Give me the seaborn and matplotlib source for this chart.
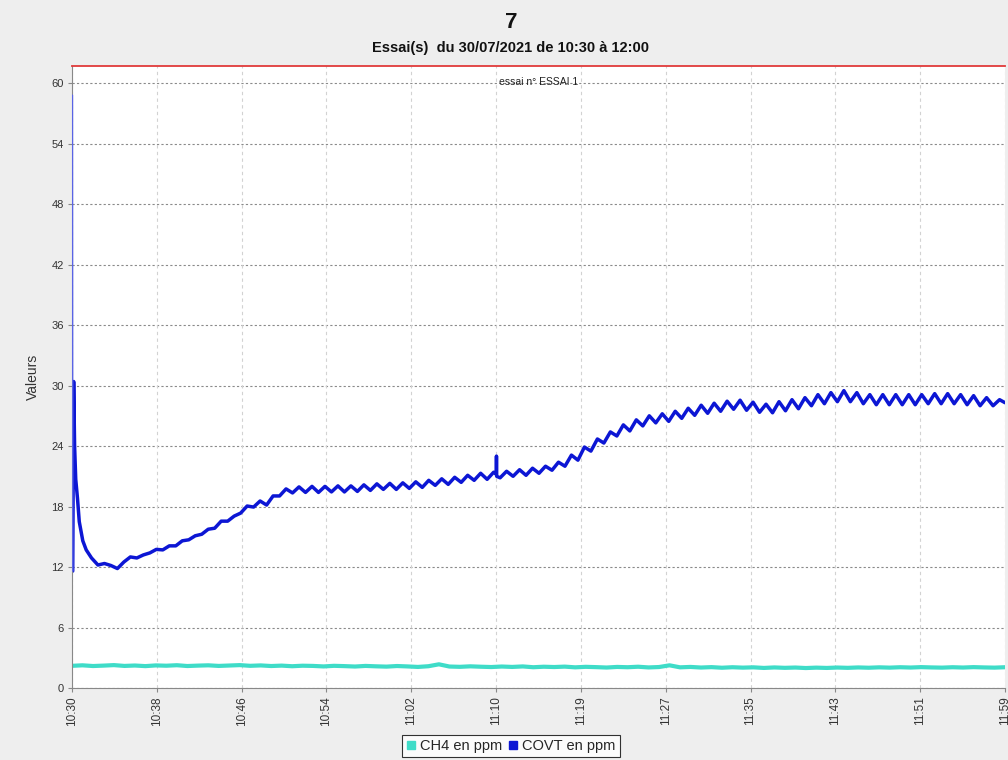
import matplotlib
matplotlib.use("Agg")
import matplotlib.pyplot as plt
import matplotlib.transforms as mtransforms
from matplotlib.lines import Line2D
import numpy as np
import pandas as pd
import seaborn as sns

# axe x : minutes depuis 10:30, graduations affichees par l'appli
tick_labels = ["10:30", "10:38", "10:46", "10:54", "11:02", "11:10",
               "11:19", "11:27", "11:35", "11:43", "11:51", "11:59"]
run_minutes = 89.9

# COVT : points irreguliers (demarrage, pic de 11:10, dernier point)
covt_extra_min = [0.04, 0.07, 0.16, 0.25, 0.36, 0.53, 0.7, 1.04, 1.37, 1.88,
                  40.88, 40.9, 40.92, 89.9]
covt_extra_ppm = [58.8, 11.6, 30.4, 24.0, 20.7, 18.8, 16.5, 14.6, 13.7, 12.9,
                  21.2, 23.0, 21.0, 28.3]

# COVT : creux / pics successifs, un point toutes les 0.625 min a partir de 2.5 min
covt_osc_start = 2.5
covt_osc_step = 0.625
covt_osc_ppm = [
    12.2, 12.35, 12.15, 11.85, 12.5, 13.0, 12.9, 13.2,
    13.4, 13.75, 13.7, 14.1, 14.1, 14.6, 14.7, 15.1,
    15.25, 15.75, 15.85, 16.55, 16.55, 17.05, 17.35, 18.05,
    17.95, 18.55, 18.15, 19.05, 19.05, 19.75, 19.35, 19.95,
    19.4, 20.0, 19.4, 20.0, 19.45, 20.05, 19.45, 20.05,
    19.5, 20.15, 19.6, 20.25, 19.7, 20.3, 19.7, 20.35,
    19.8, 20.45, 19.9, 20.6, 20.1, 20.75, 20.2, 20.9,
    20.4, 21.1, 20.6, 21.3, 20.7, 21.4, 20.85, 21.5,
    21.0, 21.65, 21.1, 21.8, 21.3, 22.0, 21.6, 22.4,
    22.0, 23.1, 22.6, 23.9, 23.5, 24.7, 24.3, 25.4,
    25.0, 26.1, 25.5, 26.6, 26.0, 27.0, 26.3, 27.2,
    26.45, 27.45, 26.75, 27.75, 27.05, 28.05, 27.25, 28.25,
    27.45, 28.45, 27.65, 28.55, 27.55, 28.35, 27.35, 28.15,
    27.3, 28.4, 27.5, 28.6, 27.7, 28.8, 28.0, 29.1,
    28.2, 29.3, 28.4, 29.5, 28.4, 29.3, 28.2, 29.1,
    28.1, 29.1, 28.1, 29.1, 28.1, 29.1, 28.1, 29.1,
    28.2, 29.2, 28.2, 29.2, 28.2, 29.1, 28.1, 29.0,
    28.0, 28.8, 28.0, 28.6,
]

# CH4 : une valeur par minute
ch4_ppm = [
    2.20, 2.25, 2.18, 2.22, 2.27, 2.19, 2.23, 2.17, 2.24, 2.21,
    2.26, 2.18, 2.22, 2.25, 2.19, 2.23, 2.27, 2.20, 2.24, 2.18,
    2.22, 2.16, 2.21, 2.19, 2.14, 2.20, 2.17, 2.13, 2.19, 2.15,
    2.12, 2.18, 2.14, 2.09, 2.16, 2.35, 2.13, 2.10, 2.15, 2.11,
    2.08, 2.13, 2.09, 2.14, 2.06, 2.11, 2.08, 2.12, 2.05, 2.10,
    2.07, 2.03, 2.09, 2.06, 2.11, 2.04, 2.08, 2.25, 2.05, 2.09,
    2.03, 2.07, 2.01, 2.06, 2.02, 2.05, 1.99, 2.04, 2.00, 2.03,
    1.98, 2.02, 1.99, 2.03, 2.00, 2.04, 2.01, 2.05, 2.02, 2.06,
    2.03, 2.07, 2.04, 2.02, 2.06, 2.03, 2.07, 2.04, 2.02, 2.06,
]

CH4_COLOR = "#3fdcc8"
COVT_COLOR = "#0c16d4"

covt_osc_min = covt_osc_start + covt_osc_step * np.arange(len(covt_osc_ppm))
covt = pd.DataFrame({
    "minutes": np.concatenate([covt_extra_min, covt_osc_min]),
    "ppm": np.concatenate([covt_extra_ppm, covt_osc_ppm]),
}).sort_values("minutes").reset_index(drop=True)
ch4 = pd.DataFrame({
    "minutes": np.linspace(0, run_minutes, len(ch4_ppm)),
    "ppm": ch4_ppm,
})

sns.set_style("white")
plt.rcParams["font.family"] = ["Liberation Sans", "DejaVu Sans"]

fig = plt.figure(figsize=(10.08, 7.6), dpi=100, facecolor="#eeeeee")
ax = fig.add_axes([72 / 1008, 72 / 760, 933 / 1008, 622 / 760])
ax.set_facecolor("white")

sns.lineplot(data=ch4, x="minutes", y="ppm", color=CH4_COLOR, lw=3.0,
             estimator=None, ax=ax)
sns.lineplot(data=covt.iloc[1:], x="minutes", y="ppm", color=COVT_COLOR, lw=2.5,
             estimator=None, ax=ax, solid_joinstyle="round")
sns.lineplot(data=covt.iloc[:2], x="minutes", y="ppm", color="#5a64e6", lw=1.1,
             estimator=None, ax=ax, zorder=5)

ax.set_xlim(0, run_minutes)
ax.set_ylim(0, 61.7)
ax.set_yticks(np.arange(0, 61, 6))
ax.set_xticks(np.linspace(0, run_minutes, len(tick_labels)))
ax.set_xticklabels(tick_labels, rotation=90)
ax.set_xlabel("")
ax.set_ylabel("Valeurs", fontsize=10, color="#333333")
ax.yaxis.set_label_coords(-32 / 933, 0.5)

ax.tick_params(axis="both", labelsize=8, labelcolor="#333333", length=3,
               width=0.8, color="#888888", pad=3, left=True, bottom=True)
ax.tick_params(axis="x", labelsize=8.5)

ax.grid(False)
for y in ax.get_yticks():
    ax.axhline(y, color="#8a8a8a", lw=0.8, ls=(0, (2, 2)), zorder=0)
for x in ax.get_xticks():
    ax.axvline(x, color="#d2d2d2", lw=0.8, ls=(0, (3, 3)), zorder=0)

ax.spines["top"].set_color("#e03a3a")
ax.spines["top"].set_linewidth(1.3)
ax.spines["right"].set_visible(False)
for side in ("left", "bottom"):
    ax.spines[side].set_color("#888888")
    ax.spines[side].set_linewidth(0.8)

# libelle de l'essai, pose sur la ligne des 60
trans = mtransforms.blended_transform_factory(ax.transAxes, ax.transData)
ax.text(0.5, 60.1, "essai n° ESSAI 1", transform=trans, ha="center", va="center",
        fontsize=7.5, color="#222222")

fig.text(511 / 1008, 1 - 22 / 760, "7", ha="center", va="center",
         fontsize=16, fontweight="bold", color="#111111")
fig.text(511 / 1008, 1 - 48 / 760, "Essai(s)  du 30/07/2021 de 10:30 à 12:00",
         ha="center", va="center", fontsize=10.5, fontweight="bold", color="#111111")

handles = [
    Line2D([], [], ls="none", marker="s", ms=5.5, color=CH4_COLOR),
    Line2D([], [], ls="none", marker="s", ms=5.5, color=COVT_COLOR),
]
leg = fig.legend(handles, ["CH4 en ppm", "COVT en ppm"], loc="center",
                 bbox_to_anchor=(511 / 1008, 1 - 746 / 760), ncol=2,
                 fontsize=10.5, frameon=True, fancybox=False, edgecolor="black",
                 handlelength=0.6, handletextpad=0.3, columnspacing=0.5,
                 borderpad=0.3, borderaxespad=0)
leg.get_frame().set_linewidth(0.8)
leg.get_frame().set_facecolor("white")

fig.savefig("out.png", dpi=100, facecolor=fig.get_facecolor())
